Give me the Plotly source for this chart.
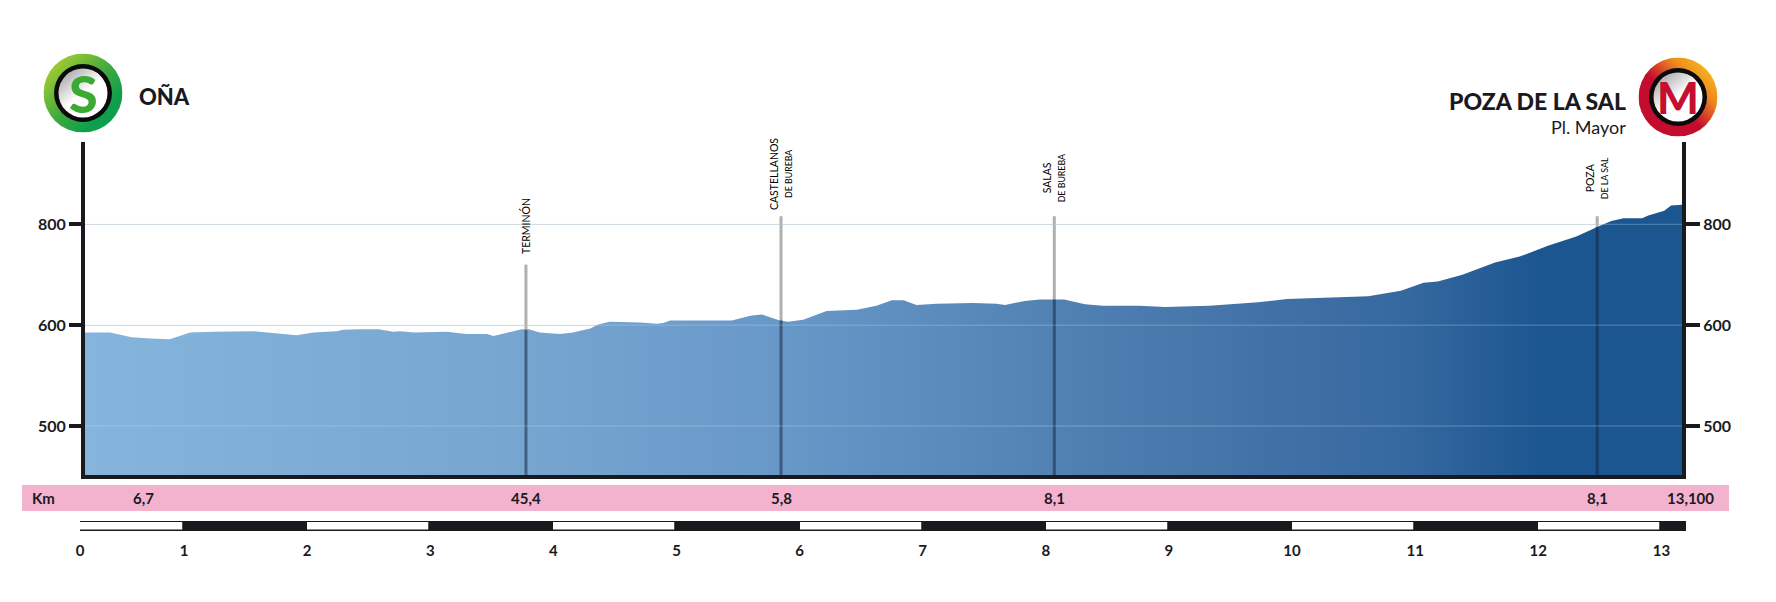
import base64
import plotly.graph_objects as go
import numpy as np

# Профиль этапа: км и высота.
# На исходной оси метки 500/600/800 стоят на равном шаге, поэтому высоты
# заданы в единицах рисунка, а подпись средней метки не равна её значению
profile_km = [0.196, 0.40, 0.575, 0.725, 0.885, 1.05, 1.24, 1.56, 1.915, 2.05, 2.24, 2.295, 2.43, 2.58, 2.70,
              2.755, 2.865, 3.135, 3.295, 3.46, 3.515, 3.745, 3.80, 3.89, 4.055, 4.16, 4.30, 4.365, 4.46, 4.705,
              4.84, 4.895, 4.95, 5.45, 5.60, 5.69, 5.84, 5.91, 6.03, 6.22, 6.465, 6.625, 6.75, 6.845, 6.95,
              7.115, 7.41, 7.60, 7.67, 7.83, 7.95, 8.15, 8.32, 8.465, 8.765, 8.965, 9.33, 9.725, 9.96, 10.355,
              10.62, 10.885, 11.07, 11.185, 11.385, 11.65, 11.85, 12.08, 12.31, 12.48, 12.595, 12.695, 12.845,
              12.895, 13.025, 13.08, 13.169]
profile_alt = [639, 639, 632, 630, 629, 639, 640, 641, 635, 639, 641, 643, 644, 644, 640,
               641, 639, 640, 637, 637, 634, 644, 644, 639, 637, 639, 645, 651, 655, 654,
               652, 653, 657, 657, 664, 666, 657, 655, 658, 671, 673, 679, 687, 687, 680,
               682, 683, 682, 680, 686, 688, 688, 681, 679, 679, 677, 679, 684, 689, 691,
               693, 701, 713, 715, 725, 743, 752, 768, 782, 796, 805, 809, 809,
               813, 820, 828, 829]

# Населённые пункты
poi_km = [3.778, 5.85, 8.07, 12.48]
poi_top = [740, 812, 812, 812]
poi_base = [643, 657, 688, 796]
poi_name = ['TERMINÓN', 'CASTELLANOS', 'SALAS', 'POZA']
poi_sub = ['', 'DE BUREBA', 'DE BUREBA', 'DE LA SAL']

# Розовая полоса с отрезками
segment_km = [0.675, 3.778, 5.85, 8.07, 12.48, 13.24]
segment_text = ['6,7', '45,4', '5,8', '8,1', '8,1', '13,100']

# Масштабная линейка
scale_edges = [0.155, 1, 2, 3, 4, 5, 6, 7, 8, 9, 10, 11, 12, 13, 13.2]
scale_ticks = [0.155, 1, 2, 3, 4, 5, 6, 7, 8, 9, 10, 11, 12, 13]
scale_labels = ['0', '1', '2', '3', '4', '5', '6', '7', '8', '9', '10', '11', '12', '13']

alt_ticks = [500, 650, 800]
alt_labels = ['500', '600', '800']

ink = '#1a1a1e'
bold_font = 'Lato'
small_font = 'Lato'


# Пиксели картинки в координаты paper
def xp(px):
    return (px - 80) / 1606


def yp(py):
    return (532 - py) / 390


def km_px(km):
    return 184 + 123.1 * (km - 1)


# Подпись в координатах paper, всегда по центру точки
def label(px, py, text, font, xanchor='center', angle=0):
    return dict(x=xp(px), y=yp(py), xref='paper', yref='paper', text=text, textangle=angle, showarrow=False,
                xanchor=xanchor, yanchor='middle', font=font)


# Значок старта/финиша: цветное кольцо и белый круг, без буквы
def badge(stops, x1, x2):
    stop_tags = ''.join(f'<stop offset="{o}" stop-color="{c}"/>' for o, c in stops)
    svg = (
        '<svg xmlns="http://www.w3.org/2000/svg" width="158" height="158" viewBox="0 0 158 158">'
        f'<defs><linearGradient id="a" x1="{x1}" y1="0" x2="{x2}" y2="1">{stop_tags}</linearGradient>'
        '<linearGradient id="b" x1="0.15" y1="0.05" x2="0.75" y2="0.8">'
        '<stop offset="0" stop-color="#a8a8aa"/><stop offset="0.6" stop-color="#ffffff"/></linearGradient></defs>'
        '<circle cx="79" cy="79" r="79" fill="url(#a)"/>'
        '<circle cx="79" cy="79" r="58" fill="#0a0a0a"/>'
        '<circle cx="79" cy="79" r="49" fill="url(#b)"/>'
        '</svg>'
    )
    return 'data:image/svg+xml;base64,' + base64.b64encode(svg.encode()).decode()


fig = go.Figure()

# Серые столбики над профилем
for km, top in zip(poi_km, poi_top):
    fig.add_trace(go.Scatter(x=[km, km], y=[427, top], mode='lines', xaxis='x2', yaxis='y',
                             line=dict(color='#b0b0b0', width=3), showlegend=False, hoverinfo='skip'))

# Сам профиль с горизонтальным градиентом
fig.add_trace(go.Scatter(
    x=profile_km, y=profile_alt, mode='lines', xaxis='x2', yaxis='y',
    line=dict(width=0), fill='tozeroy',
    fillgradient=dict(type='horizontal', colorscale=[
        [0, '#85b4dc'], [0.28, '#76a5d0'], [0.435, '#6898c8'], [0.607, '#5282b4'],
        [0.70, '#4676aa'], [0.823, '#3669a0'], [0.911, '#1c5690'], [1, '#1c5690']]),
    showlegend=False, hoverinfo='skip'
))

# Тёмная часть столбиков поверх заливки
for km, base in zip(poi_km, poi_base):
    fig.add_trace(go.Scatter(x=[km, km], y=[427, base], mode='lines', xaxis='x2', yaxis='y2',
                             line=dict(color='rgba(20,40,70,0.55)', width=3), showlegend=False, hoverinfo='skip'))

# Линейка снизу
edges = np.array(scale_edges)
fig.add_trace(go.Bar(
    x=(edges[:-1] + edges[1:]) / 2, y=[1] * (len(edges) - 1), width=np.diff(edges),
    xaxis='x', yaxis='y3',
    marker=dict(color=['white' if i % 2 == 0 else ink for i in range(len(edges) - 1)],
                line=dict(color=ink, width=1.5)),
    showlegend=False, hoverinfo='skip'
))

shapes = [dict(type='rect', xref='paper', yref='paper', x0=xp(22), x1=xp(1729), y0=yp(485), y1=yp(511),
               fillcolor='#f3b3ce', line=dict(width=0), layer='below')]
# Светлые линии сетки поверх заливки
for val in alt_ticks:
    shapes.append(dict(type='line', xref='x2', yref='y', x0=0.196, x1=13.169, y0=val, y1=val,
                       line=dict(color='rgba(190,225,250,0.35)', width=1), layer='above'))

annotations = []
name_font = dict(family=small_font, size=10.5, color='#000000')
sub_font = dict(family=small_font, size=8.8, color='#000000')
for km, name, sub in zip(poi_km, poi_name, poi_sub):
    px = km_px(km)
    if sub:
        center = 174 if name == 'CASTELLANOS' else 178
        annotations.append(label(px - 7, center, name, name_font, angle=-90))
        annotations.append(label(px + 7, center, sub, sub_font, angle=-90))
    else:
        annotations.append(label(px - 1, 226, name, name_font, angle=-90))

row_font = dict(family=bold_font, size=15, color=ink, weight='bold')
for km, text in zip(segment_km, segment_text):
    annotations.append(label(km_px(km), 498, text, row_font))
annotations.append(label(43, 498, 'Km', row_font))

# Названия старта и финиша
annotations.append(label(137, 97, 'OÑA', dict(family=bold_font, size=22, color=ink, weight=900), xanchor='left'))
annotations.append(label(1628, 101, 'POZA DE LA SAL', dict(family=bold_font, size=23, color=ink, weight=900),
                         xanchor='right'))
annotations.append(label(1628, 127, 'Pl. Mayor', dict(family=bold_font, size=18, color=ink), xanchor='right'))
annotations.append(label(83, 93, 'S', dict(family=bold_font, size=52, color='#3aaa35', weight=900)))
annotations.append(label(1678, 97, 'M', dict(family=bold_font, size=44, color='#c60f30', weight=900)))

images = [
    dict(source=badge([(0, '#c4d62e'), (0.5, '#3fa93e'), (0.75, '#0f9f4c'), (1, '#0f9f4c')], 0, 1),
         xref='paper', yref='paper', x=xp(43.5), y=yp(53.5), sizex=79 / 1606, sizey=79 / 390,
         xanchor='left', yanchor='top', sizing='stretch', layer='below'),
    dict(source=badge([(0, '#f7d51d'), (0.3, '#ee8a20'), (0.55, '#c40d2e'), (1, '#c40d2e')], 1, 0),
         xref='paper', yref='paper', x=xp(1638.5), y=yp(57.5), sizex=79 / 1606, sizey=79 / 390,
         xanchor='left', yanchor='top', sizing='stretch', layer='below'),
]

# Страница добавляет поле 8 px, поэтому отступы меньше на 8
fig.update_layout(
    width=1768, height=594,
    margin=dict(l=72, r=90, t=134, b=70, autoexpand=False),
    paper_bgcolor='white', plot_bgcolor='white',
    showlegend=False, bargap=0,
    xaxis=dict(domain=[0, 1], range=[0.155, 13.2], anchor='y3', tickvals=scale_ticks, ticktext=scale_labels,
               ticks='outside', ticklen=5, tickcolor='rgba(0,0,0,0)', showgrid=False, zeroline=False,
               tickfont=dict(family=bold_font, size=15, color=ink, weight='bold')),
    xaxis2=dict(domain=[5 / 1606, 1602 / 1606], range=[0.196, 13.169], anchor='y', showticklabels=False,
                showline=True, linewidth=4, linecolor=ink, showgrid=False, zeroline=False, ticks=''),
    yaxis=dict(domain=[57 / 390, 1], range=[427.1, 922.4], anchor='x2', tickvals=alt_ticks, ticktext=alt_labels,
               ticks='outside', ticklen=12, tickwidth=4, tickcolor=ink, showline=True, linewidth=4, linecolor=ink,
               gridcolor='#d9d9d9', gridwidth=1, zeroline=False,
               tickfont=dict(family=bold_font, size=16, color=ink, weight='bold')),
    yaxis2=dict(domain=[57 / 390, 1], range=[427.1, 922.4], anchor='x2', overlaying='y', side='right',
                tickvals=alt_ticks, ticktext=alt_labels,
                ticks='outside', ticklen=14, tickwidth=4, tickcolor=ink, showline=True, linewidth=4, linecolor=ink,
                showgrid=False, zeroline=False,
                tickfont=dict(family=bold_font, size=16, color=ink, weight='bold')),
    yaxis3=dict(domain=[0, 11 / 390], range=[-0.06, 1.06], anchor='x', visible=False),
    shapes=shapes, annotations=annotations, images=images
)

fig.write_html("out.html")
